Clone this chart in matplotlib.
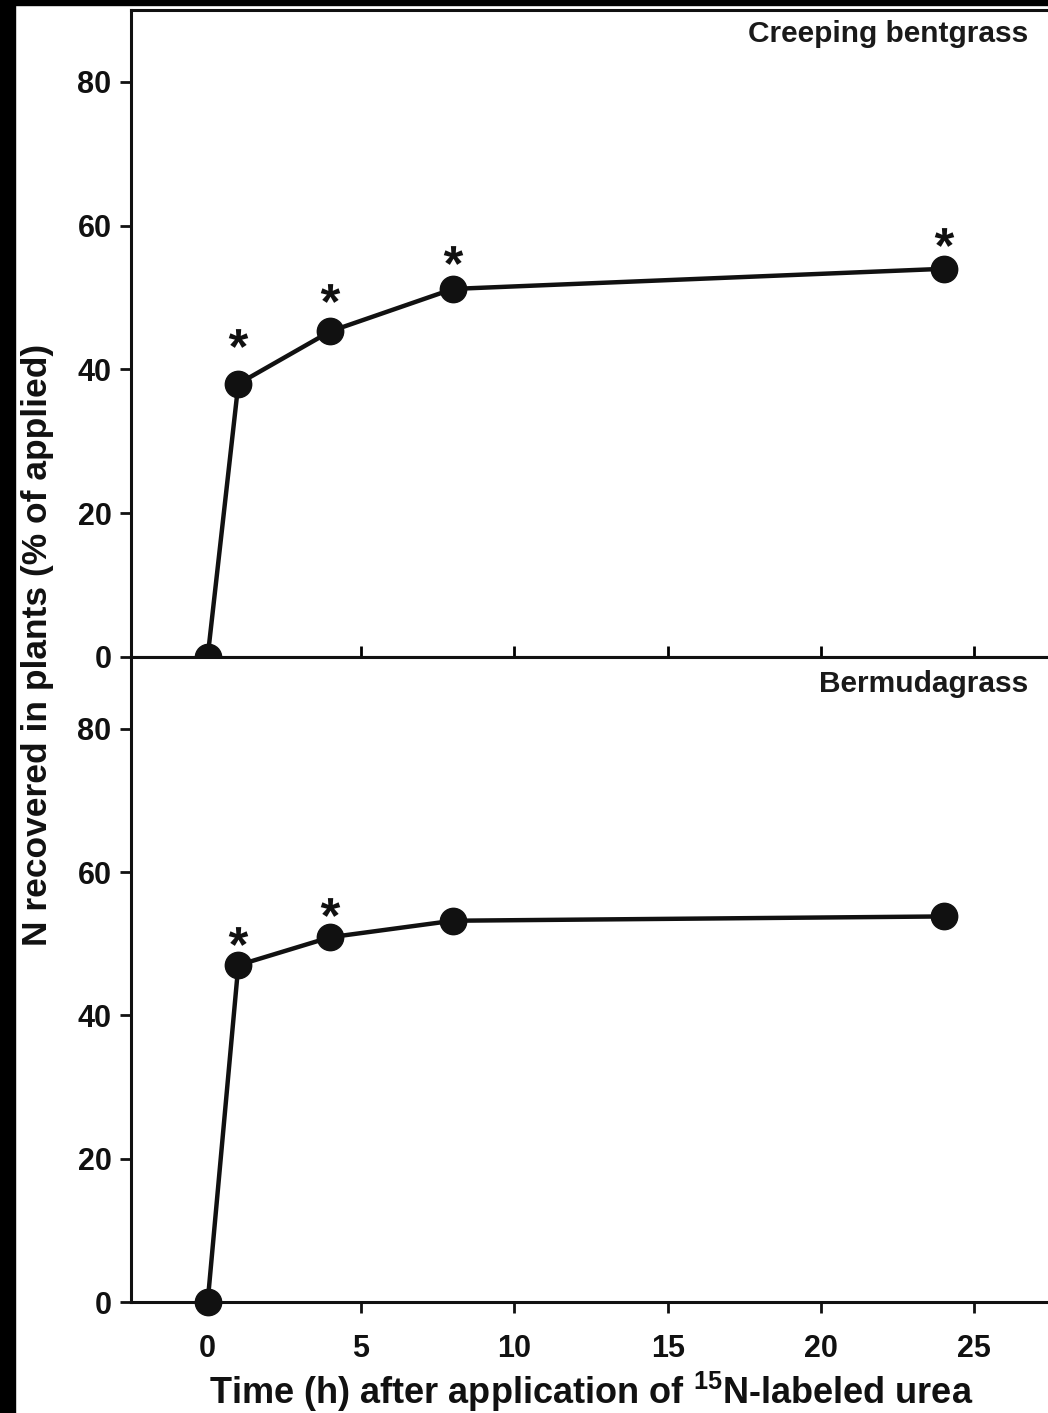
"""
N recovery in creeping bentgrass and bermudagrass after 15N-labeled urea application.
"""

import matplotlib
matplotlib.use('Agg')
import matplotlib.pyplot as plt
from matplotlib.patches import Rectangle

plt.rcParams['font.family'] = ['Liberation Sans', 'DejaVu Sans']
plt.rcParams['font.weight'] = 'bold'
plt.rcParams['mathtext.fontset'] = 'custom'
plt.rcParams['mathtext.rm'] = 'Liberation Sans:bold'
plt.rcParams['mathtext.bf'] = 'Liberation Sans:bold'
plt.rcParams['mathtext.it'] = 'Liberation Sans'

# data
hours = [0, 1, 4, 8, 24]
bentgrass = [0, 38.0, 45.3, 51.2, 54.0]
bermudagrass = [0, 47.0, 50.9, 53.2, 53.8]
# significance asterisks: hour and height of the star
bentgrass_star_h = [1, 4, 8, 24]
bentgrass_star_y = [44.4, 50.7, 55.9, 58.4]
bermudagrass_star_h = [1, 4]
bermudagrass_star_y = [51.1, 55.1]
panel_names = ['Creeping bentgrass', 'Bermudagrass']
xticks = [0, 5, 10, 15, 20, 25]
yticks = [0, 20, 40, 60, 80]

W, H = 1048, 1413
fig = plt.figure(figsize=(W / 100, H / 100), dpi=100)
fig.patch.set_facecolor('white')

left = 131 / W
width = 920 / W
ax1 = fig.add_axes([left, (H - 657) / H, width, 647 / H])
ax2 = fig.add_axes([left, (H - 1302) / H, width, 645 / H])

panels = [(ax1, bentgrass, bentgrass_star_h, bentgrass_star_y, panel_names[0]),
          (ax2, bermudagrass, bermudagrass_star_h, bermudagrass_star_y, panel_names[1])]
for ax, vals, sh, sy, name in panels:
    ax.plot(hours, vals, color='#111111', lw=3.2, marker='o', ms=19,
            clip_on=(ax is ax1), zorder=3)
    ax.plot(sh, sy, ls='none', marker='$\\mathit{*}$', ms=14, color='#111111', mew=0)
    ax.set_xlim(-2.5, 27.5)
    ax.set_ylim(0, 90)
    ax.set_yticks(yticks)
    ax.set_xticks(xticks)
    ax.text(0.975, 0.985 if ax is ax1 else 0.98, name, transform=ax.transAxes,
            ha='right', va='top', fontsize=21.5, color='#1a1a1a')
    for sp in ax.spines.values():
        sp.set_linewidth(2.2)
        sp.set_color('#111111')
    ax.tick_params(axis='y', direction='out', length=8, width=2,
                   labelsize=22, pad=6, colors='#111111')

ax1.tick_params(axis='x', direction='in', length=8, width=2, labelbottom=False)
ax2.tick_params(axis='x', direction='out', length=8, width=2, labelsize=22,
                pad=15, colors='#111111')
ax2.set_xlabel(r'Time (h) after application of $^{15}$N-labeled urea',
               fontsize=26, fontweight='bold', labelpad=4, color='#111111')

fig.text(38 / W, (H - 645) / H, 'N recovered in plants (% of applied)', rotation=90,
         ha='center', va='center', fontsize=25.5, fontweight='bold', color='#111111')

# black scan borders on the left and top edge
fig.patches.append(Rectangle((0, 0), 15 / W, 1, transform=fig.transFigure,
                             color='black', zorder=10))
fig.patches.append(Rectangle((0, 1 - 5 / H), 1, 5 / H, transform=fig.transFigure,
                             color='black', zorder=10))

fig.savefig('out.png', dpi=100)
